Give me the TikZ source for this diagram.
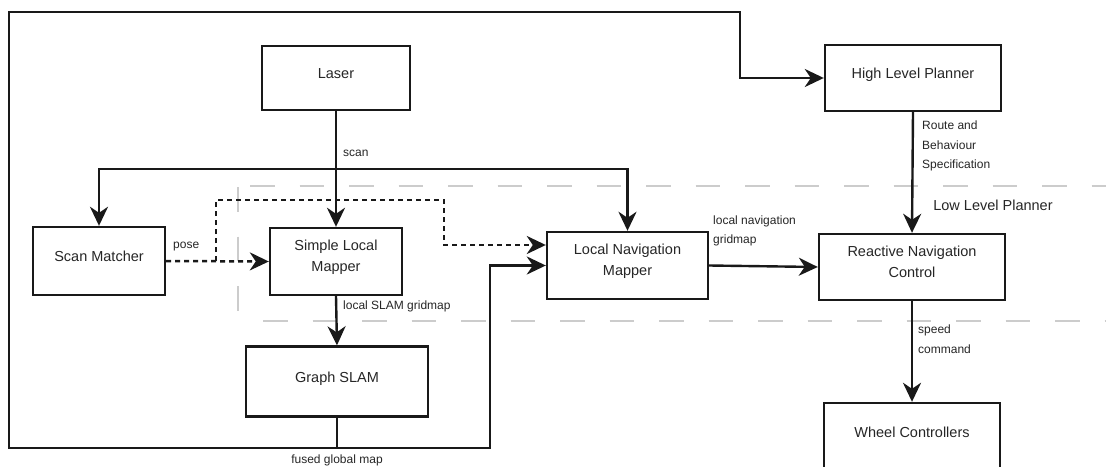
\documentclass[tikz,border=0pt]{standalone}
\usepackage{fontspec}
\setmainfont{Liberation Sans}
\usetikzlibrary{arrows.meta}
\begin{document}
\begin{tikzpicture}[x=1pt,y=-1pt,
  box/.style={draw=black!90, line width=2.4pt, fill=white, inner sep=0pt, align=center,
    font=\fontsize{14.5}{21}\selectfont, text=black!85, text depth=9pt},
  box2/.style={box, text depth=11pt},
  lbl/.style={font=\fontsize{12}{19.5}\selectfont, text=black!85, inner sep=0pt, align=left},
  arr/.style={draw=black!90, line width=2.4pt, -{Stealth[length=19pt,width=18pt,inset=6pt]}},
  dotarr/.style={draw=black!90, line width=2.5pt, dash pattern=on 5pt off 4pt, -{Stealth[length=19pt,width=18pt,inset=6pt]}},
  grayd/.style={draw=black!20, line width=2pt, dash pattern=on 24.5pt off 25pt}]
\useasboundingbox (0,0) rectangle (1106,466);
\clip (0,0) rectangle (1106,466);
\fill[white] (0,0) rectangle (1106,466);

% gray dashed separators
\draw[grayd] (250,186) -- (1106,186);
\draw[grayd] (238,187) -- (238,320);
\draw[grayd] (263,321) -- (1106,321);

% nodes
\node[box, minimum width=148pt, minimum height=64pt] (laser) at (336,78) {Laser};
\node[box, minimum width=176pt, minimum height=66pt] (hlp) at (913,78) {High Level Planner};
\node[box, minimum width=132pt, minimum height=68pt] (sm) at (99,261) {Scan Matcher};
\node[box2, minimum width=132pt, minimum height=67pt] (slm) at (336,261.5) {Simple Local\\Mapper};
\node[box2, minimum width=161pt, minimum height=67pt] (lnm) at (627.5,265.5) {Local Navigation\\Mapper};
\node[box2, minimum width=186pt, minimum height=66pt] (rnc) at (912,267) {Reactive Navigation\\Control};
\node[box, minimum width=182pt, minimum height=70pt] (gs) at (337,381.5) {Graph SLAM};
\node[box, minimum width=176pt, minimum height=66pt, text depth=7pt] (wc) at (912,436) {Wheel Controllers};

% junction coordinates
\coordinate (j1) at (336,169);
\coordinate (c1) at (9,448);
\coordinate (c3) at (740,12);
\coordinate (c4) at (490,448);
\coordinate (d0) at (216,261);
\coordinate (d1) at (444,200);

% laser scan distribution
\draw[arr] (laser.south) -- (slm.north);
\draw[arr] (j1) -| (sm.north);
\draw[arr] (j1) -| (lnm.north);

% global loop
\draw[arr] (gs.south) |- (c1) |- (c3) |- (hlp.west);
\draw[arr] (gs.south) |- (c4) |- (lnm.west);

% other arrows
\draw[arr] (slm.south) -- (gs.north);
\draw[arr] (hlp.south) -- (rnc.north);
\draw[arr] (lnm.east) -- (rnc.west);
\draw[arr] (rnc.south) -- (wc.north);

% pose (dotted)
\draw[dotarr] (sm.east) -- (slm.west);
\draw[dotarr] (d0) |- (d1) |- ([yshift=20.5pt]lnm.west);

% labels
\node[lbl, anchor=west] (lscan) at (343,153) {scan};
\node[lbl, anchor=west] (lroute) at (922,146) {Route and\\Behaviour\\Specification};
\node[font=\fontsize{14.5}{17}\selectfont, text=black!85, inner sep=0pt] (llp) at (993,205) {Low Level Planner};
\node[lbl, anchor=west] (lpose) at (173,247) {pose};
\node[lbl, anchor=west] (lslam) at (343,306) {local SLAM gridmap};
\node[lbl] (lfused) at (337,460) {fused global map};
\node[lbl, anchor=west] (lnav) at (713,231) {local navigation\\gridmap};
\node[lbl, anchor=west] (lspeed) at (918,339) {speed\\command};
\end{tikzpicture}
\end{document}
